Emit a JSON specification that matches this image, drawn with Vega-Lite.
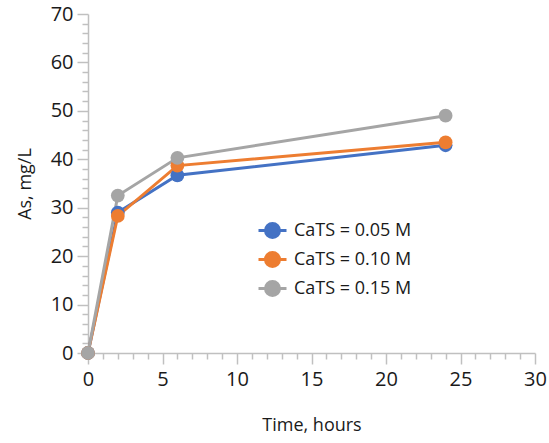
{
  "$schema": "https://vega.github.io/schema/vega-lite/v6.json",
  "width": 447,
  "height": 339,
  "autosize": {"type": "none"},
  "padding": {"left": 88, "top": 14, "right": 14, "bottom": 90},
  "background": "white",
  "config": {
    "view": {"stroke": null},
    "font": "Open Sans"
  },
  "data": {
    "values": [
      {"t": 0, "as": 0, "s": "CaTS = 0.05 M", "o": 0},
      {"t": 2, "as": 29.0, "s": "CaTS = 0.05 M", "o": 0},
      {"t": 6, "as": 36.7, "s": "CaTS = 0.05 M", "o": 0},
      {"t": 24, "as": 42.9, "s": "CaTS = 0.05 M", "o": 0},
      {"t": 0, "as": 0, "s": "CaTS = 0.10 M", "o": 1},
      {"t": 2, "as": 28.3, "s": "CaTS = 0.10 M", "o": 1},
      {"t": 6, "as": 38.7, "s": "CaTS = 0.10 M", "o": 1},
      {"t": 24, "as": 43.5, "s": "CaTS = 0.10 M", "o": 1},
      {"t": 0, "as": 0, "s": "CaTS = 0.15 M", "o": 2},
      {"t": 2, "as": 32.5, "s": "CaTS = 0.15 M", "o": 2},
      {"t": 6, "as": 40.3, "s": "CaTS = 0.15 M", "o": 2},
      {"t": 24, "as": 49.0, "s": "CaTS = 0.15 M", "o": 2}
    ]
  },
  "encoding": {
    "x": {
      "field": "t", "type": "quantitative",
      "scale": {"domain": [0, 30], "nice": false},
      "axis": {
        "values": [0,1,2,3,4,5,6,7,8,9,10,11,12,13,14,15,16,17,18,19,20,21,22,23,24,25,26,27,28,29,30],
        "labelExpr": "datum.value % 5 === 0 ? datum.label : ''",
        "tickSize": {"condition": {"test": "datum.value % 5 === 0", "value": 11}, "value": 6},
        "title": "Time, hours",
        "grid": false,
        "domainColor": "#c0c0c0",
        "tickColor": "#c0c0c0",
        "domainWidth": 1.5,
        "tickWidth": 1.5,
        "labelFont": "Open Sans",
        "labelFontSize": 20,
        "labelColor": "#1a1a1a",
        "labelPadding": 5,
        "labelOverlap": false,
        "labelFlush": false,
        "titleFont": "Open Sans",
        "titleFontSize": 18,
        "titleFontWeight": "normal",
        "titleColor": "#1a1a1a",
        "titlePadding": 27
      }
    },
    "y": {
      "field": "as", "type": "quantitative",
      "scale": {"domain": [0, 70], "nice": false},
      "axis": {
        "values": [0,2,4,6,8,10,12,14,16,18,20,22,24,26,28,30,32,34,36,38,40,42,44,46,48,50,52,54,56,58,60,62,64,66,68,70],
        "labelExpr": "datum.value % 10 === 0 ? datum.label : ''",
        "tickSize": {"condition": {"test": "datum.value % 10 === 0", "value": 11}, "value": 6},
        "title": "As, mg/L",
        "grid": false,
        "domainColor": "#c0c0c0",
        "tickColor": "#c0c0c0",
        "domainWidth": 1.5,
        "tickWidth": 1.5,
        "labelFont": "Open Sans",
        "labelFontSize": 20,
        "labelColor": "#1a1a1a",
        "labelPadding": 4,
        "labelOverlap": false,
        "labelFlush": false,
        "titleFont": "Open Sans",
        "titleFontSize": 18,
        "titleFontWeight": "normal",
        "titleColor": "#1a1a1a",
        "titlePadding": 16
      }
    },
    "color": {
      "field": "s", "type": "nominal",
      "scale": {"domain": ["CaTS = 0.05 M", "CaTS = 0.10 M", "CaTS = 0.15 M"], "range": ["#4472C4", "#ED7D31", "#A5A5A5"]},
      "legend": {
        "title": null,
        "orient": "none",
        "legendX": 173,
        "legendY": 205,
        "symbolType": "M-1.4,0H-0.7A0.7,0.7 0 1,1 0.7,0H1.4M0.7,0A0.7,0.7 0 1,1 -0.7,0",
        "symbolSize": 400,
        "symbolStrokeWidth": 3,
        "labelFontSize": 18,
        "labelFont": "Open Sans",
        "labelColor": "#1a1a1a",
        "rowPadding": 2,
        "labelOffset": 10
      }
    },
    "order": {"field": "o"}
  },
  "layer": [
    {
      "mark": {"type": "line", "strokeWidth": 3},
      "encoding": {"detail": {"field": "s"}}
    },
    {
      "mark": {"type": "point", "filled": true, "size": 190, "opacity": 1}
    }
  ]
}
